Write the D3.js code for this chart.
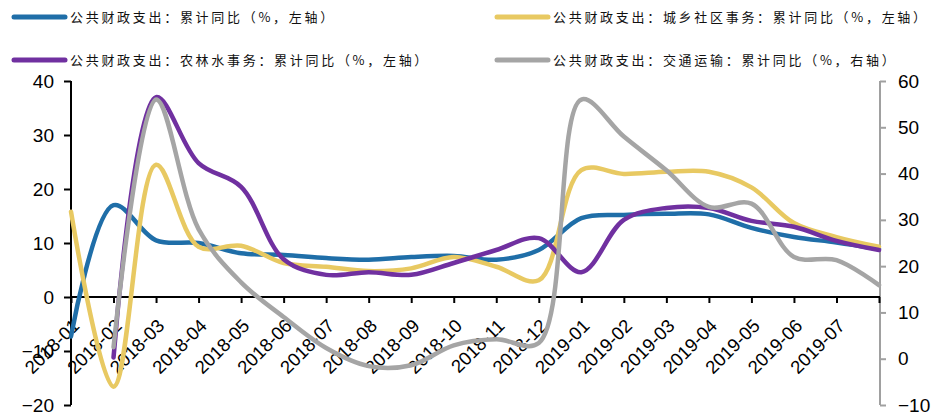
<!DOCTYPE html>
<html><head><meta charset="utf-8">
<script src="https://cdn.jsdelivr.net/npm/d3@7"></script>
<style>
html,body{margin:0;padding:0;background:#fff;}
svg{display:block;}
</style></head>
<body>
<svg id="chart" width="941" height="416"></svg>
<script>
const categories = ["2018-01","2018-02","2018-03","2018-04","2018-05","2018-06","2018-07","2018-08","2018-09","2018-10","2018-11","2018-12","2019-01","2019-02","2019-03","2019-04","2019-05","2019-06","2019-07","2019-08"];
const tickLabels = ["2018-01","2018-02","2018-03","2018-04","2018-05","2018-06","2018-07","2018-08","2018-09","2018-10","2018-11","2018-12","2019-01","2019-02","2019-03","2019-04","2019-05","2019-06","2019-07"];
const totalExp   = [-7.3, 17.0, 10.5, 10.0, 8.1, 7.8, 7.2, 6.9, 7.4, 7.6, 6.9, 8.7, 14.6, 15.2, 15.4, 15.3, 12.8, 11.1, 10.1, 8.9];
const urbanComm  = [15.8, -16.6, 24.5, 9.3, 9.5, 6.3, 5.6, 4.8, 5.3, 7.4, 5.6, 3.1, 23.5, 22.8, 23.2, 23.2, 20.3, 13.7, 11.1, 9.3];
const agriWater  = [null, -11.2, 37.0, 24.8, 20.4, 7.0, 4.1, 4.6, 4.1, 6.3, 8.7, 10.9, 4.6, 14.3, 16.5, 16.5, 14.1, 13.0, 10.4, 8.7];
const transport  = [null, 2.5, 56.0, 28.0, 16.5, 9.0, 2.3, -1.6, -1.4, 2.9, 4.2, 3.4, 56.0, 48.0, 40.7, 32.8, 33.5, 22.0, 21.3, 15.9];
const leftTicks  = [-20, -10, 0, 10, 20, 30, 40];
const rightTicks = [-10, 0, 10, 20, 30, 40, 50, 60];
const seriesNames = ["公共财政支出：累计同比（%，左轴）","公共财政支出：城乡社区事务：累计同比（%，左轴）","公共财政支出：农林水事务：累计同比（%，左轴）","公共财政支出：交通运输：累计同比（%，右轴）"];
const colors = ["#1f6ea8","#e8c962","#7030a0","#a5a5a5"];

const svg = d3.select("#chart");
const x = d3.scalePoint().domain(categories).range([71, 879]);
const yL = d3.scaleLinear().domain([-20, 40]).range([405, 81]);
const yR = d3.scaleLinear().domain([-10, 60]).range([405, 81]);

const series = [
  {vals: totalExp, y: yL},
  {vals: urbanComm, y: yL},
  {vals: agriWater, y: yL},
  {vals: transport, y: yR}
];

// axes
const gL = svg.append("g").attr("transform","translate(71,0)")
  .call(d3.axisLeft(yL).tickValues(leftTicks).tickSize(7).tickPadding(10).tickFormat(d3.format("d")));
gL.select(".domain").attr("stroke","#000").attr("stroke-width",2).attr("d","M0,81V405");
gL.selectAll(".tick line").attr("stroke","#000").attr("stroke-width",2);
gL.selectAll(".tick text").attr("font-family","Liberation Sans, Arial, sans-serif").attr("font-size",19).attr("fill","#000");

const gR = svg.append("g").attr("transform","translate(880,0)")
  .call(d3.axisRight(yR).tickValues(rightTicks).tickSize(6).tickPadding(12).tickFormat(d3.format("d")));
gR.select(".domain").attr("stroke","#a0a0a0").attr("stroke-width",2).attr("d","M0,81V405");
gR.selectAll(".tick line").attr("stroke","#a0a0a0").attr("stroke-width",2);
gR.selectAll(".tick text").attr("font-family","Liberation Sans, Arial, sans-serif").attr("font-size",19).attr("fill","#000");

const gX = svg.append("g").attr("transform","translate(0," + yL(0) + ")")
  .call(d3.axisBottom(x).tickSize(6).tickPadding(3).tickFormat(d => tickLabels.includes(d) ? d : ""));
gX.select(".domain").attr("stroke","#000").attr("stroke-width",2).attr("d","M71,0H880");
gX.selectAll(".tick line").attr("stroke","#000").attr("stroke-width",2);
gX.selectAll(".tick text")
  .attr("font-family","Liberation Sans, Arial, sans-serif").attr("font-size",18.5).attr("fill","#000")
  .attr("text-anchor","end").attr("dy","0").attr("y",0)
  .attr("transform","translate(9,30) rotate(-45)");

// lines
series.forEach((s, i) => {
  const line = d3.line()
    .defined(d => d != null)
    .x((d, j) => x(categories[j]))
    .y(d => s.y(d))
    .curve(d3.curveCatmullRom.alpha(0.5));
  svg.append("path")
    .attr("d", line(s.vals))
    .attr("fill","none")
    .attr("stroke", colors[i])
    .attr("stroke-width", 4.5)
    .attr("stroke-linejoin","round")
    .attr("stroke-linecap","round");
});

// legend
const legendPos = [[12, 17], [495, 17], [12, 60], [495, 60]];
seriesNames.forEach((name, i) => {
  const [lx, ly] = legendPos[i];
  svg.append("line").attr("x1", lx + 2).attr("x2", lx + 53).attr("y1", ly).attr("y2", ly)
    .attr("stroke", colors[i]).attr("stroke-width", 5).attr("stroke-linecap","round");
  svg.append("text").attr("x", lx + 58).attr("y", ly + 5)
    .attr("font-family","Noto Sans CJK SC, sans-serif").attr("font-size", 13)
    .attr("letter-spacing", 2.7).attr("fill","#111").text(name);
});
</script>
</body></html>
